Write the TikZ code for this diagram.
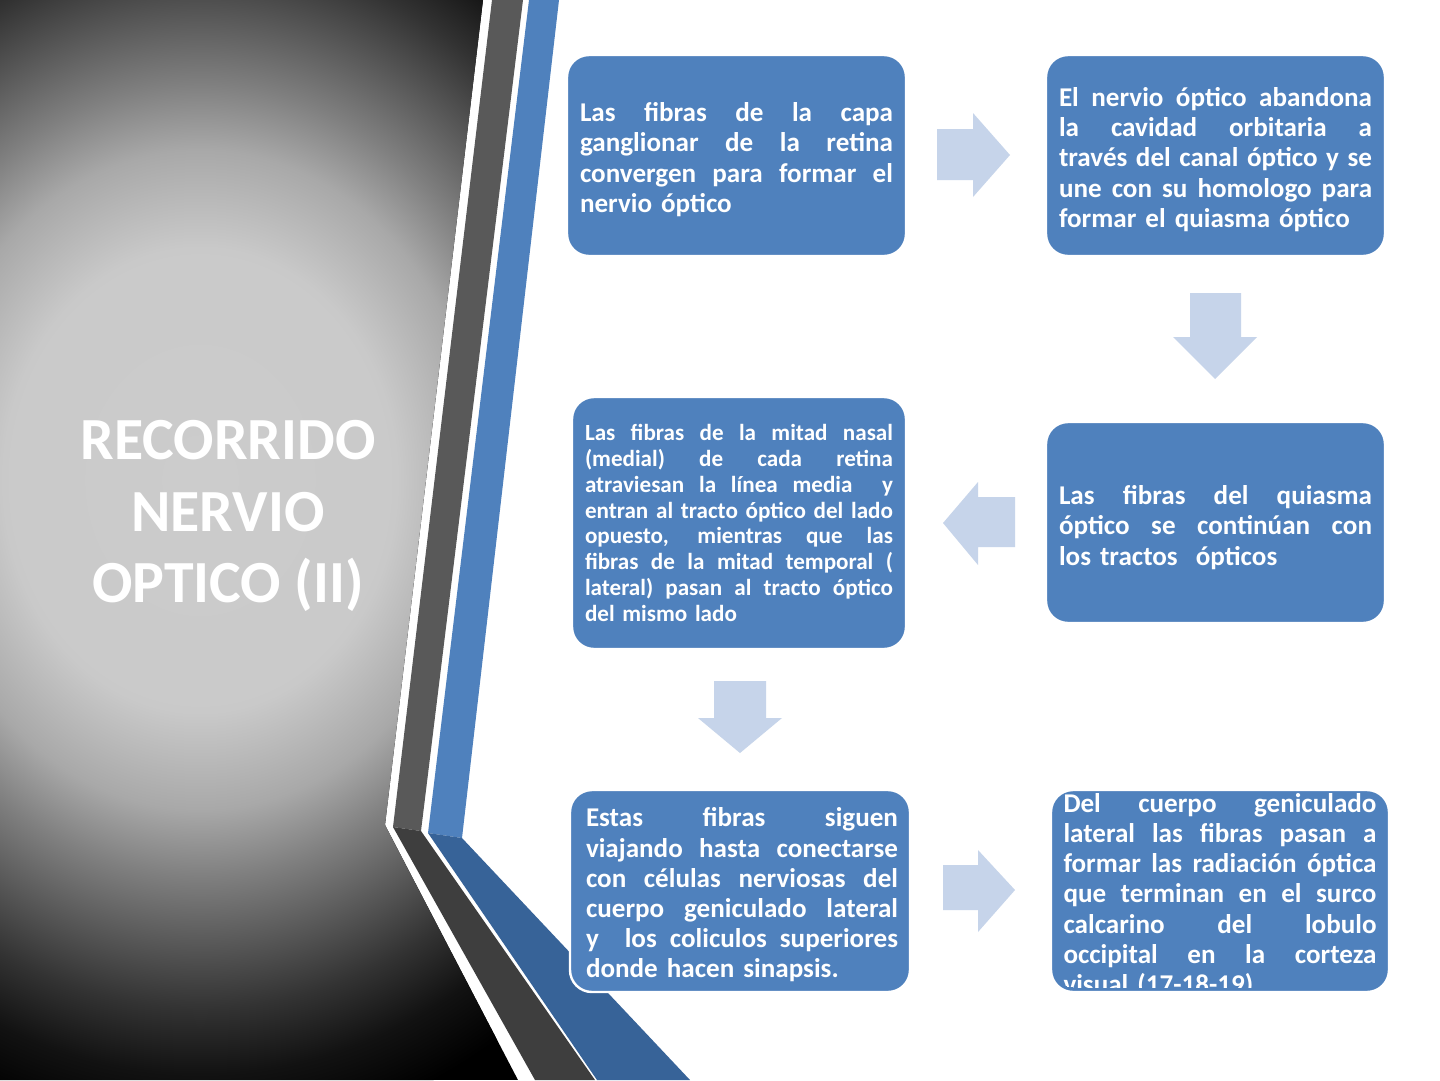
\documentclass[tikz,border=0pt]{standalone}
\usepackage{fontspec}
\setmainfont{Carlito}
\definecolor{boxblue}{RGB}{79,129,189}
\definecolor{arrowblue}{RGB}{198,212,234}
\definecolor{grayup}{RGB}{89,89,89}
\definecolor{graylow}{RGB}{62,62,62}
\definecolor{blueup}{RGB}{79,129,189}
\definecolor{bluelow}{RGB}{55,99,152}
\pgfdeclareradialshading{bgshade}{\pgfpoint{0bp}{0bp}}{%
rgb(0bp)=(0.80,0.80,0.80);rgb(8.75bp)=(0.79,0.79,0.79);rgb(12.5bp)=(0.66,0.66,0.66);%
rgb(15bp)=(0.50,0.50,0.50);rgb(17.5bp)=(0.35,0.35,0.35);rgb(20bp)=(0.20,0.20,0.20);%
rgb(22.5bp)=(0.07,0.07,0.07);rgb(25bp)=(0,0,0);rgb(50bp)=(0,0,0)}
\newlength\jlw
\setlength\jlw{156.5bp}
\newcommand\jl[2][\jlw]{\leavevmode\hbox to #1{\spaceskip=0.226em plus 1fil minus 0.08em\relax #2}}
\tikzset{
  box/.style={rectangle, rounded corners=11bp, fill=boxblue, draw=white, line width=1.2bp,
    inner sep=0pt},
  boxtext/.style={text=white, font=\fontsize{13.6}{15.15}\selectfont\bfseries, inner sep=0pt, align=left},
  smalltext/.style={boxtext, font=\fontsize{11.6}{12.93}\selectfont\bfseries},
  blockarrow/.style={fill=arrowblue}
}
\begin{document}
\begin{tikzpicture}[x=0.5bp,y=-0.5bp]
\useasboundingbox (0,0) rectangle (1440,1080);
\fill[white] (0,0) rectangle (1440,1080);
% left gradient panel
\begin{scope}
\clip (0,0) -- (483,0) -- (385,825) -- (518,1080) -- (0,1080) -- cycle;
\fill[black] (0,0) rectangle (1440,1080);
\shade[shading=bgshade] (200,480) ellipse [x radius=280bp, y radius=330bp];
\end{scope}
% chevron bands
\fill[grayup] (492,0) -- (523,0) -- (421,831) -- (393,827) -- cycle;
\fill[graylow] (393,827) -- (421,831) -- (595,1080) -- (535,1080) -- cycle;
\fill[blueup] (529,0) -- (559,0) -- (462,838) -- (428,833) -- cycle;
\fill[bluelow] (428,833) -- (462,838) -- (690,1080) -- (597,1080) -- cycle;
% title
\node[align=center, text=white, font=\fontsize{30}{36}\selectfont\bfseries] (title) at (228,516)
  {RECORRIDO\\NERVIO\\OPTICO (II)};
% boxes
\node[box, minimum width=169.5bp, minimum height=100.5bp] (b1) at (736.5,155.5) {};
\node[boxtext, text width=156.5bp] (b1t) at ([yshift=-2bp]b1.center)
  {\jl{Las fibras de la capa}\\\jl{ganglionar de la retina}\\\jl{convergen para formar el}\\nervio óptico};
\node[box, minimum width=169.5bp, minimum height=100.5bp] (b2) at (1215.5,155.5) {};
\node[boxtext, text width=156.5bp] (b2t) at ([yshift=-2bp]b2.center)
  {\jl{El nervio óptico abandona}\\\jl{la cavidad orbitaria a}\\\jl{través del canal óptico y se}\\\jl{une con su homologo para}\\formar el quiasma óptico};
\node[box, minimum width=167bp, minimum height=126bp] (b3) at (739,523) {};
\node[smalltext, text width=154bp] (b3t) at (b3.center)
  {\jl[154bp]{Las fibras de la mitad nasal}\\\jl[154bp]{(medial) de cada retina}\\\jl[154bp]{atraviesan la línea media \ y}\\\jl[154bp]{entran al tracto óptico del lado}\\\jl[154bp]{opuesto, mientras que las}\\\jl[154bp]{fibras de la mitad temporal (}\\\jl[154bp]{lateral) pasan al tracto óptico}\\del mismo lado};
\node[box, minimum width=169.5bp, minimum height=100.5bp] (b4) at (1215.5,522.5) {};
\node[boxtext, text width=156.5bp] (b4t) at ([yshift=-2.5bp]b4.center)
  {\jl{Las fibras del quiasma}\\\jl{óptico se continúan con}\\los tractos \ ópticos};
\node[box, minimum width=170bp, minimum height=101bp] (b5) at (740,891) {};
\node[boxtext, text width=156bp] (b5t) at ([xshift=1bp,yshift=-2bp]b5.center)
  {\jl[156bp]{Estas fibras siguen}\\\jl[156bp]{viajando hasta conectarse}\\\jl[156bp]{con células nerviosas del}\\\jl[156bp]{cuerpo geniculado lateral}\\\jl[156bp]{y \ los coliculos superiores}\\donde hacen sinapsis.};
\node[box, minimum width=169bp, minimum height=101bp] (b6) at (1220,891) {};
\begin{scope}
\clip[rounded corners=10bp] (1053,790) rectangle (1387,987);
\node[boxtext, anchor=north, text width=156.5bp] (b6t) at (1220,793)
  {\jl{Del cuerpo geniculado}\\\jl{lateral las fibras pasan a}\\\jl{formar las radiación óptica}\\\jl{que terminan en el surco}\\\jl{calcarino del lobulo}\\\jl{occipital en la corteza}\\visual (17-18-19)};
\end{scope}
% block arrows
\fill[blockarrow] (937,129) -- (973,129) -- (973,113) -- (1010,155) -- (973,197) -- (973,180) -- (937,180) -- cycle;
\fill[blockarrow] (1190,293) -- (1241,293) -- (1241,337) -- (1257,337) -- (1215,379) -- (1173,337) -- (1190,337) -- cycle;
\fill[blockarrow] (1015,497) -- (978,497) -- (978,482) -- (943,523) -- (978,565) -- (978,547) -- (1015,547) -- cycle;
\fill[blockarrow] (714,681) -- (766,681) -- (766,718) -- (782,718) -- (740,753) -- (698,718) -- (714,718) -- cycle;
\fill[blockarrow] (943,865) -- (978,865) -- (978,850) -- (1015,890) -- (978,932) -- (978,910) -- (943,910) -- cycle;
\end{tikzpicture}
\end{document}
